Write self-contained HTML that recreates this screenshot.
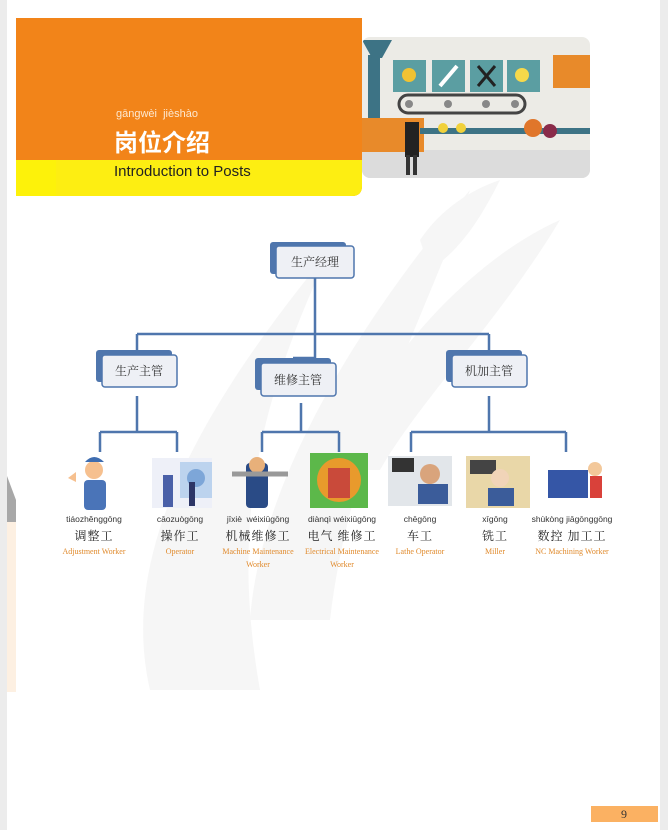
<!DOCTYPE html>
<html><head><meta charset="utf-8"><style>
html,body{margin:0;padding:0;}
body{width:668px;height:830px;position:relative;background:#ececec;overflow:hidden;font-family:"Liberation Sans","Noto Sans CJK SC",sans-serif;}
.page{position:absolute;left:7px;top:0;width:653px;height:830px;background:#fff;}
.t{position:absolute;white-space:nowrap;}
.py{font-size:8.5px;color:#333;text-align:center;width:100px;}
.cn{font-family:"Noto Serif CJK SC","Liberation Serif",serif;font-size:12px;color:#222;text-align:center;width:100px;letter-spacing:1px;}
.en{font-family:"Liberation Serif",serif;font-size:8px;color:#e08a2c;text-align:center;width:100px;line-height:13px;}
</style></head><body>
<div class="page"></div>
<svg style="position:absolute;left:0;top:0" width="668" height="830">
<!-- watermark -->
<g fill="#ececec" opacity="0.45">
<path d="M150 690 C120 560 190 420 330 250 C260 400 230 520 260 690 Z"/>
<path d="M250 620 C260 480 360 320 470 190 C420 330 350 450 330 620 Z"/>
<path d="M330 470 C380 360 470 260 560 220 C500 320 420 400 380 470 Z"/>
<path d="M420 240 C440 210 470 190 500 180 C480 220 460 250 430 270 Z"/>
</g>
<path d="M7 476 L16 500 L16 548 L7 522 Z" fill="#a8a8a8"/>
<rect x="7" y="522" width="9" height="170" fill="#fdf0e2"/>
<!-- header -->
<path d="M16 18 H362 V186 Q362 196 352 196 H16 Z" fill="#f28419"/>
<path d="M16 160 H362 V186 Q362 196 352 196 H16 Z" fill="#fdee12"/>
<rect x="16" y="160" width="40" height="36" fill="#fdf20a"/>
<!-- factory image -->
<clipPath id="c"><rect x="362" y="37" width="228" height="141" rx="8"/></clipPath>
<g clip-path="url(#c)">
<rect x="362" y="37" width="228" height="141" fill="#ecebe6"/>
<rect x="362" y="150" width="228" height="28" fill="#dcdcdc"/>
<rect x="368" y="55" width="12" height="70" fill="#3d7385"/>
<path d="M362 40 H392 L382 58 H372 Z" fill="#3d7385"/>
<rect x="393" y="60" width="33" height="32" fill="#5b9ea2"/>
<rect x="432" y="60" width="33" height="32" fill="#5b9ea2"/>
<rect x="470" y="60" width="33" height="32" fill="#5b9ea2"/>
<rect x="507" y="60" width="33" height="32" fill="#5b9ea2"/>
<circle cx="409" cy="75" r="7" fill="#f1c232"/><circle cx="522" cy="75" r="7" fill="#f6d94a"/>
<path d="M440 86 L457 66" stroke="#fff" stroke-width="4"/>
<path d="M478 66 L495 86 M495 66 L478 86" stroke="#222" stroke-width="3"/>
<rect x="399" y="95" width="126" height="18" rx="9" fill="none" stroke="#444" stroke-width="3"/>
<circle cx="409" cy="104" r="4" fill="#888"/><circle cx="448" cy="104" r="4" fill="#888"/><circle cx="486" cy="104" r="4" fill="#888"/><circle cx="515" cy="104" r="4" fill="#888"/>
<rect x="362" y="118" width="62" height="34" fill="#e88a2a"/>
<rect x="420" y="128" width="170" height="6" fill="#3d7385"/>
<circle cx="443" cy="128" r="5" fill="#f1d13a"/><circle cx="461" cy="128" r="5" fill="#f1d13a"/>
<circle cx="533" cy="128" r="9" fill="#e0762b"/><circle cx="550" cy="131" r="7" fill="#8a2b4a"/>
<rect x="553" y="55" width="37" height="33" fill="#e88a2a"/>
<rect x="405" y="122" width="14" height="35" fill="#222"/><rect x="406" y="155" width="4" height="20" fill="#333"/><rect x="413" y="155" width="4" height="20" fill="#333"/>
</g>
<!-- org chart -->
<g stroke="#4f76ad" stroke-width="2.5" fill="none">
<path d="M315 275 V334 M137 334 H489 M137 334 V358 M489 334 V358 M315 334 V358 H293"/>
<path d="M137 396 V432 M100 432 H177 M100 432 V452 M177 432 V452"/>
<path d="M301 403 V432 M262 432 H339 M262 432 V452 M339 432 V452"/>
<path d="M489 396 V432 M411 432 H566 M411 432 V452 M566 432 V452"/>
</g>
<g>
<rect x="270" y="242" width="76" height="32" rx="3" fill="#4f76ad"/>
<rect x="276" y="246" width="78" height="32" rx="3" fill="#eef0f5" stroke="#4f76ad" stroke-width="1.5"/>
<rect x="96" y="350" width="76" height="32" rx="3" fill="#4f76ad"/>
<rect x="102" y="355" width="75" height="32" rx="3" fill="#eef0f5" stroke="#4f76ad" stroke-width="1.5"/>
<rect x="255" y="358" width="76" height="32" rx="3" fill="#4f76ad"/>
<rect x="261" y="363" width="75" height="33" rx="3" fill="#eef0f5" stroke="#4f76ad" stroke-width="1.5"/>
<rect x="446" y="350" width="76" height="32" rx="3" fill="#4f76ad"/>
<rect x="452" y="355" width="75" height="32" rx="3" fill="#eef0f5" stroke="#4f76ad" stroke-width="1.5"/>
</g>
<g font-family="Noto Serif CJK SC, serif" font-size="12" fill="#333" text-anchor="middle">
<text x="315" y="266">生产经理</text>
<text x="139" y="375">生产主管</text>
<text x="298" y="384">维修主管</text>
<text x="489" y="375">机加主管</text>
</g>
<!-- worker images -->
<g>
<circle cx="94" cy="470" r="9" fill="#f6c08f"/><path d="M85 462 Q94 452 104 462 Z" fill="#3f6db0"/>
<rect x="84" y="480" width="22" height="30" rx="4" fill="#4a74b8"/><path d="M68 478 l8 -6 v10 z" fill="#f6c08f"/>
<rect x="152" y="458" width="60" height="50" fill="#eef0f8"/><rect x="180" y="462" width="32" height="36" fill="#bcd3ee"/><circle cx="196" cy="478" r="9" fill="#7da6d8"/>
<rect x="163" y="475" width="10" height="32" fill="#4a60a8"/><rect x="189" y="482" width="6" height="24" fill="#2c3566"/>
<rect x="246" y="463" width="22" height="45" rx="4" fill="#2a4b86"/><circle cx="257" cy="465" r="8" fill="#e8b07a"/><path d="M232 474 H288" stroke="#999" stroke-width="5"/>
<rect x="310" y="453" width="58" height="55" fill="#5cb84a"/><circle cx="339" cy="480" r="22" fill="#e89a2c"/><rect x="328" y="468" width="22" height="30" fill="#c94a3a"/>
<rect x="388" y="456" width="64" height="50" fill="#e2e6ea"/><rect x="392" y="458" width="22" height="14" fill="#333"/><circle cx="430" cy="474" r="10" fill="#d9a47c"/><rect x="418" y="484" width="30" height="20" fill="#3b5c9a"/>
<rect x="466" y="456" width="64" height="52" fill="#e9d7a8"/><rect x="470" y="460" width="26" height="14" fill="#444"/><circle cx="500" cy="478" r="9" fill="#f1d4b8"/><rect x="488" y="488" width="26" height="18" fill="#3b5c9a"/>
<rect x="548" y="470" width="40" height="28" fill="#3556a6"/><circle cx="595" cy="469" r="7" fill="#f3c89a"/><rect x="590" y="476" width="12" height="22" fill="#d9413a"/>
</g>
<rect x="591" y="806" width="67" height="16" fill="#fbb162"/>
<text x="624" y="818" font-family="Liberation Serif, serif" font-size="12" fill="#333" text-anchor="middle">9</text>
</svg>
<div class="t" style="left:116px;top:108px;font-size:11px;color:#fde8d0;">gāngwèi&nbsp;&nbsp;jièshào</div>
<div class="t" style="left:114px;top:123px;font-size:24px;font-weight:bold;color:#fff;font-family:'Noto Sans CJK SC',sans-serif;">岗位介绍</div>
<div class="t" style="left:114px;top:163px;font-size:15px;color:#222;">Introduction to Posts</div>

<div class="t py" style="left:44px;top:514px">tiáozhěnggōng</div>
<div class="t cn" style="left:44px;top:527px">调整工</div>
<div class="t en" style="left:44px;top:545px">Adjustment Worker</div>

<div class="t py" style="left:130px;top:514px">cāozuògōng</div>
<div class="t cn" style="left:130px;top:527px">操作工</div>
<div class="t en" style="left:130px;top:545px">Operator</div>

<div class="t py" style="left:208px;top:514px">jīxiè&nbsp; wéixiūgōng</div>
<div class="t cn" style="left:208px;top:527px">机械维修工</div>
<div class="t en" style="left:208px;top:545px">Machine Maintenance<br>Worker</div>

<div class="t py" style="left:292px;top:514px">diànqì wéixiūgōng</div>
<div class="t cn" style="left:292px;top:527px">电气 维修工</div>
<div class="t en" style="left:292px;top:545px">Electrical Maintenance<br>Worker</div>

<div class="t py" style="left:370px;top:514px">chēgōng</div>
<div class="t cn" style="left:370px;top:527px">车工</div>
<div class="t en" style="left:370px;top:545px">Lathe Operator</div>

<div class="t py" style="left:445px;top:514px">xīgōng</div>
<div class="t cn" style="left:445px;top:527px">铣工</div>
<div class="t en" style="left:445px;top:545px">Miller</div>

<div class="t py" style="left:522px;top:514px">shùkòng jiāgōnggōng</div>
<div class="t cn" style="left:522px;top:527px">数控 加工工</div>
<div class="t en" style="left:522px;top:545px">NC Machining Worker</div>
</body></html>
